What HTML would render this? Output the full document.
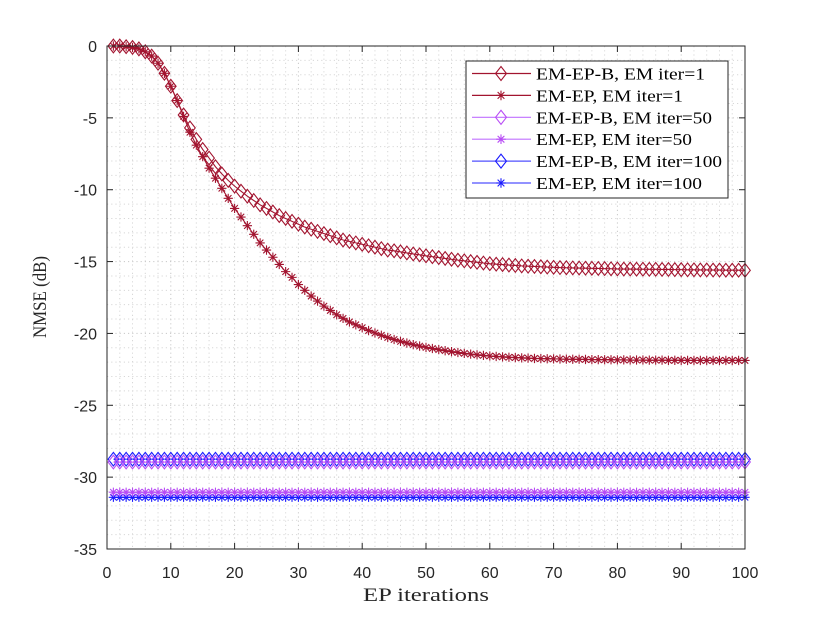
<!DOCTYPE html>
<html><head><meta charset="utf-8"><style>
html,body{margin:0;padding:0;background:#fff;}
svg{display:block;}
.tk{font-family:"Liberation Sans",sans-serif;font-size:16px;fill:#262626;}
.ttl{font-family:"Liberation Serif",serif;font-size:19px;fill:#262626;}
.lg{font-family:"Liberation Serif",serif;font-size:17px;fill:#000;}
</style></head><body>
<svg id="chart" width="822" height="617" viewBox="0 0 822 617">
<rect x="0" y="0" width="822" height="617" fill="#fff"/>
<g id="grid"></g>
<g id="series"></g>
<g id="axes"></g>
<text class="ttl" x="426" y="601" text-anchor="middle" textLength="126" lengthAdjust="spacingAndGlyphs">EP iterations</text>
<text class="ttl" transform="translate(46,297) rotate(-90)" text-anchor="middle" textLength="82" lengthAdjust="spacingAndGlyphs">NMSE (dB)</text>
<g id="legend"></g>
</svg>
<script>
const xTicks=[0,10,20,30,40,50,60,70,80,90,100];
const yTicks=[0,-5,-10,-15,-20,-25,-30,-35];
const seriesNames=["EM-EP-B, EM iter=1","EM-EP, EM iter=1","EM-EP-B, EM iter=50","EM-EP, EM iter=50","EM-EP-B, EM iter=100","EM-EP, EM iter=100"];
const emepbIter1=[0,0,-0.05,-0.1,-0.2,-0.4,-0.7,-1.2,-1.9,-2.8,-3.8,-4.8,-5.7,-6.5,-7.2,-7.8,-8.4,-8.9,-9.35,-9.75,
-10.1,-10.45,-10.75,-11.05,-11.3,-11.55,-11.8,-12.0,-12.2,-12.4,-12.6,-12.75,-12.9,-13.05,-13.2,-13.35,-13.5,-13.6,-13.7,-13.8,
-13.9,-14.0,-14.1,-14.2,-14.25,-14.32,-14.4,-14.47,-14.53,-14.6,-14.66,-14.72,-14.78,-14.84,-14.9,-14.95,-15.0,-15.05,-15.1,-15.15,
-15.18,-15.21,-15.24,-15.27,-15.3,-15.32,-15.34,-15.36,-15.38,-15.4,-15.42,-15.43,-15.44,-15.45,-15.46,-15.47,-15.48,-15.49,-15.5,-15.51,
-15.52,-15.52,-15.53,-15.53,-15.54,-15.54,-15.55,-15.55,-15.56,-15.56,-15.57,-15.57,-15.58,-15.58,-15.59,-15.59,-15.6,-15.6,-15.6,-15.61];
const emepIter1=[0,0,-0.05,-0.1,-0.2,-0.4,-0.7,-1.2,-1.9,-2.8,-3.8,-4.9,-6.0,-6.9,-7.7,-8.5,-9.2,-9.9,-10.6,-11.3,
-11.9,-12.5,-13.1,-13.7,-14.2,-14.7,-15.2,-15.7,-16.1,-16.6,-17.0,-17.4,-17.75,-18.1,-18.4,-18.7,-18.95,-19.2,-19.4,-19.6,
-19.8,-19.97,-20.13,-20.28,-20.42,-20.55,-20.67,-20.78,-20.88,-20.97,-21.05,-21.13,-21.2,-21.27,-21.33,-21.39,-21.44,-21.49,-21.53,-21.57,
-21.6,-21.63,-21.66,-21.68,-21.7,-21.72,-21.74,-21.75,-21.76,-21.77,-21.78,-21.79,-21.8,-21.8,-21.81,-21.82,-21.82,-21.83,-21.83,-21.84,
-21.84,-21.85,-21.85,-21.85,-21.86,-21.86,-21.86,-21.87,-21.87,-21.87,-21.88,-21.88,-21.88,-21.88,-21.88,-21.88,-21.88,-21.88,-21.88,-21.88];
const emepbIter50=[-28.95,-28.95,-28.95,-28.95,-28.95,-28.95,-28.95,-28.95,-28.95,-28.95,-28.95,-28.95,-28.95,-28.95,-28.95,-28.95,-28.95,-28.95,-28.95,-28.95,
-28.95,-28.95,-28.95,-28.95,-28.95,-28.95,-28.95,-28.95,-28.95,-28.95,-28.95,-28.95,-28.95,-28.95,-28.95,-28.95,-28.95,-28.95,-28.95,-28.95,
-28.95,-28.95,-28.95,-28.95,-28.95,-28.95,-28.95,-28.95,-28.95,-28.95,-28.95,-28.95,-28.95,-28.95,-28.95,-28.95,-28.95,-28.95,-28.95,-28.95,
-28.95,-28.95,-28.95,-28.95,-28.95,-28.95,-28.95,-28.95,-28.95,-28.95,-28.95,-28.95,-28.95,-28.95,-28.95,-28.95,-28.95,-28.95,-28.95,-28.95,
-28.95,-28.95,-28.95,-28.95,-28.95,-28.95,-28.95,-28.95,-28.95,-28.95,-28.95,-28.95,-28.95,-28.95,-28.95,-28.95,-28.95,-28.95,-28.95,-28.95];
const emepIter50=[-31.05,-31.05,-31.05,-31.05,-31.05,-31.05,-31.05,-31.05,-31.05,-31.05,-31.05,-31.05,-31.05,-31.05,-31.05,-31.05,-31.05,-31.05,-31.05,-31.05,
-31.05,-31.05,-31.05,-31.05,-31.05,-31.05,-31.05,-31.05,-31.05,-31.05,-31.05,-31.05,-31.05,-31.05,-31.05,-31.05,-31.05,-31.05,-31.05,-31.05,
-31.05,-31.05,-31.05,-31.05,-31.05,-31.05,-31.05,-31.05,-31.05,-31.05,-31.05,-31.05,-31.05,-31.05,-31.05,-31.05,-31.05,-31.05,-31.05,-31.05,
-31.05,-31.05,-31.05,-31.05,-31.05,-31.05,-31.05,-31.05,-31.05,-31.05,-31.05,-31.05,-31.05,-31.05,-31.05,-31.05,-31.05,-31.05,-31.05,-31.05,
-31.05,-31.05,-31.05,-31.05,-31.05,-31.05,-31.05,-31.05,-31.05,-31.05,-31.05,-31.05,-31.05,-31.05,-31.05,-31.05,-31.05,-31.05,-31.05,-31.05];
const emepbIter100=[-28.75,-28.75,-28.75,-28.75,-28.75,-28.75,-28.75,-28.75,-28.75,-28.75,-28.75,-28.75,-28.75,-28.75,-28.75,-28.75,-28.75,-28.75,-28.75,-28.75,
-28.75,-28.75,-28.75,-28.75,-28.75,-28.75,-28.75,-28.75,-28.75,-28.75,-28.75,-28.75,-28.75,-28.75,-28.75,-28.75,-28.75,-28.75,-28.75,-28.75,
-28.75,-28.75,-28.75,-28.75,-28.75,-28.75,-28.75,-28.75,-28.75,-28.75,-28.75,-28.75,-28.75,-28.75,-28.75,-28.75,-28.75,-28.75,-28.75,-28.75,
-28.75,-28.75,-28.75,-28.75,-28.75,-28.75,-28.75,-28.75,-28.75,-28.75,-28.75,-28.75,-28.75,-28.75,-28.75,-28.75,-28.75,-28.75,-28.75,-28.75,
-28.75,-28.75,-28.75,-28.75,-28.75,-28.75,-28.75,-28.75,-28.75,-28.75,-28.75,-28.75,-28.75,-28.75,-28.75,-28.75,-28.75,-28.75,-28.75,-28.75];
const emepIter100=[-31.4,-31.4,-31.4,-31.4,-31.4,-31.4,-31.4,-31.4,-31.4,-31.4,-31.4,-31.4,-31.4,-31.4,-31.4,-31.4,-31.4,-31.4,-31.4,-31.4,
-31.4,-31.4,-31.4,-31.4,-31.4,-31.4,-31.4,-31.4,-31.4,-31.4,-31.4,-31.4,-31.4,-31.4,-31.4,-31.4,-31.4,-31.4,-31.4,-31.4,
-31.4,-31.4,-31.4,-31.4,-31.4,-31.4,-31.4,-31.4,-31.4,-31.4,-31.4,-31.4,-31.4,-31.4,-31.4,-31.4,-31.4,-31.4,-31.4,-31.4,
-31.4,-31.4,-31.4,-31.4,-31.4,-31.4,-31.4,-31.4,-31.4,-31.4,-31.4,-31.4,-31.4,-31.4,-31.4,-31.4,-31.4,-31.4,-31.4,-31.4,
-31.4,-31.4,-31.4,-31.4,-31.4,-31.4,-31.4,-31.4,-31.4,-31.4,-31.4,-31.4,-31.4,-31.4,-31.4,-31.4,-31.4,-31.4,-31.4,-31.4];

const NS="http://www.w3.org/2000/svg";
const L=107,R=745,T=46,B=549;
function xs(v){return L+(v-0)/(100-0)*(R-L);}
function ys(v){return T+(0-v)/(0-(-35))*(B-T);}
function mk(tag,attrs,parent){const e=document.createElementNS(NS,tag);for(const k in attrs)e.setAttribute(k,attrs[k]);parent.appendChild(e);return e;}

const grid=document.getElementById('grid');
for(let v=2;v<100;v+=2){const l=mk('line',{x1:xs(v),x2:xs(v),y1:T,y2:B,stroke:v%10===0?'#c8c8c8':'#d8d8d8','stroke-width':1,'stroke-dasharray':'1.2,3'},grid);

}
for(let v=-1;v>-35;v--){const l=mk('line',{x1:L,x2:R,y1:ys(v),y2:ys(v),stroke:v%5===0?'#c8c8c8':'#d8d8d8','stroke-width':1,'stroke-dasharray':'1.2,3'},grid);

}

const styles=[
 {data:emepbIter1,color:'#a2142f',line:'#a2142f',m:'d'},
 {data:emepIter1,color:'#a2142f',line:'#a2142f',m:'s'},
 {data:emepbIter50,color:'#b84cf5',line:'#c070ff',m:'d'},
 {data:emepIter50,color:'#b84cf5',line:'#c070ff',m:'s'},
 {data:emepbIter100,color:'#1a1aff',line:'#5050ff',m:'d'},
 {data:emepIter100,color:'#1a1aff',line:'#5050ff',m:'s'}];
const legendWidths=[169,147,176,156,186,166];
function marker(g,x,y,type,color,sz){
 if(type==='d'){return mk('path',{d:`M${x-sz*0.78},${y}L${x},${y-sz}L${x+sz*0.78},${y}L${x},${y+sz}Z`,fill:'none',stroke:color,'stroke-width':1.1},g);}
 const s=sz*0.8;
 return mk('path',{d:`M${x-s},${y}H${x+s}M${x},${y-s}V${y+s}M${x-s*0.7},${y-s*0.7}L${x+s*0.7},${y+s*0.7}M${x-s*0.7},${y+s*0.7}L${x+s*0.7},${y-s*0.7}`,fill:'none',stroke:color,'stroke-width':1.1},g);
}
const sg=document.getElementById('series');
const order=[4,5,2,3,0,1];
order.forEach(i=>{
 const st=styles[i];
 const g=mk('g',{},sg);
 
 
 const pts=st.data.map((v,k)=>xs(k+1)+','+ys(v)).join(' ');
 const pl=mk('polyline',{points:pts,fill:'none',stroke:st.line,'stroke-width':1.1},g);
 
 
 st.data.forEach((v,k)=>{const m=marker(g,xs(k+1),ys(v),st.m,st.color,st.m==='d'?6.8:5.8);
  
  });
});

const ax=document.getElementById('axes');
const box=mk('rect',{x:L,y:T,width:R-L,height:B-T,fill:'none',stroke:'#262626','stroke-width':1},ax);


xTicks.forEach(v=>{const x=xs(v);
 mk('line',{x1:x,x2:x,y1:B,y2:B-6,stroke:'#262626'},ax);
 mk('line',{x1:x,x2:x,y1:T,y2:T+6,stroke:'#262626'},ax);
 const t=mk('text',{x:x,y:578,'text-anchor':'middle',class:'tk'},ax);t.textContent=v;
 
 });
yTicks.forEach(v=>{const y=ys(v);
 mk('line',{x1:L,x2:L+6,y1:y,y2:y,stroke:'#262626'},ax);
 mk('line',{x1:R,x2:R-6,y1:y,y2:y,stroke:'#262626'},ax);
 const t=mk('text',{x:97,y:y+6,'text-anchor':'end',class:'tk'},ax);t.textContent=v;
 
 });

const lg=document.getElementById('legend');
mk('rect',{x:466,y:61,width:262,height:137,fill:'#fff',stroke:'#262626','stroke-width':1},lg);
seriesNames.forEach((n,i)=>{const st=styles[i];const y=73.5+i*21.9;
 const e=mk('g',{},lg);
 
 
 mk('line',{x1:472,x2:531,y1:y,y2:y,stroke:st.line,'stroke-width':1.2},e);
 marker(e,501,y,st.m,st.color,st.m==='d'?7:6);
 const t=mk('text',{x:536,y:y+6,class:'lg',textLength:legendWidths[i],lengthAdjust:'spacingAndGlyphs'},e);t.textContent=n;});
</script>
</body></html>
